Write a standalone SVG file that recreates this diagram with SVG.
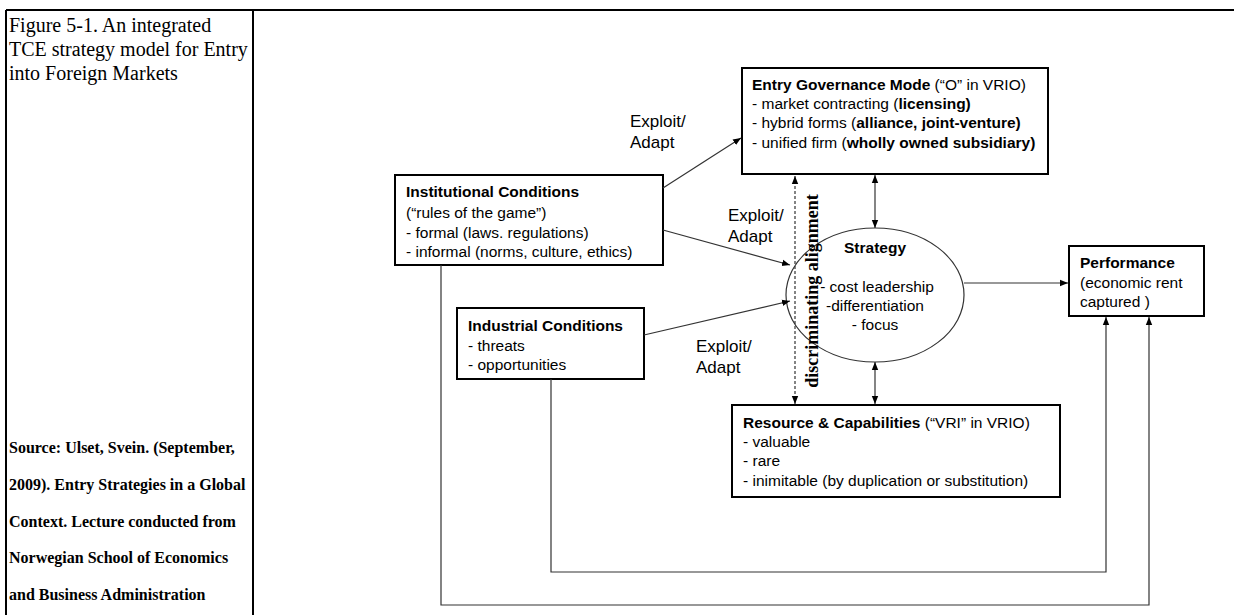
<svg xmlns="http://www.w3.org/2000/svg" width="1234" height="615" viewBox="0 0 1234 615">
<defs>
<marker id="ah" viewBox="0 0 10 10" refX="10" refY="5" markerWidth="8" markerHeight="8" orient="auto-start-reverse" markerUnits="userSpaceOnUse"><path d="M0,1 L10,5 L0,9 z" fill="#000"/></marker>
<style>
.t{font-family:"Liberation Sans",Arial,sans-serif;font-size:15.5px;fill:#000}
.b{font-weight:bold}
.lb{font-family:"Liberation Sans",Arial,sans-serif;font-size:17px;fill:#000}
.cap{font-family:"Liberation Serif","Times New Roman",serif;font-size:20px;fill:#000}
.src{font-family:"Liberation Serif","Times New Roman",serif;font-size:16px;font-weight:bold;fill:#000}
.box{fill:#fff;stroke:#000;stroke-width:2}
.ln{fill:none;stroke:#333;stroke-width:1.2}
.tbl{stroke:#000;stroke-width:2;fill:none}
</style>
</defs>
<rect width="1234" height="615" fill="#fff"/>
<g id="table">
<line class="tbl" x1="6" y1="10" x2="1234" y2="10"/>
<line class="tbl" x1="6" y1="10" x2="6" y2="615"/>
<line class="tbl" x1="253" y1="10" x2="253" y2="615"/>
</g>
<g id="caption">
<text class="cap" x="9" y="32">Figure 5-1. An integrated</text>
<text class="cap" x="9" y="56">TCE strategy model for Entry</text>
<text class="cap" x="9" y="80">into Foreign Markets</text>
</g>
<g id="source">
<text class="src" x="9" y="453">Source: Ulset, Svein. (September,</text>
<text class="src" x="9" y="490">2009). Entry Strategies in a Global</text>
<text class="src" x="9" y="527">Context. Lecture conducted from</text>
<text class="src" x="9" y="563">Norwegian School of Economics</text>
<text class="src" x="9" y="600">and Business Administration</text>
</g>
<g id="entry">
<rect class="box" x="742" y="68" width="306" height="106"/>
<text class="t" x="752" y="90"><tspan class="b">Entry Governance Mode</tspan> (“O” in VRIO)</text>
<text class="t" x="752" y="109">- market contracting (<tspan class="b">licensing)</tspan></text>
<text class="t" x="752" y="128">- hybrid forms (<tspan class="b">alliance, joint-venture)</tspan></text>
<text class="t" x="752" y="148">- unified firm (<tspan class="b">wholly owned subsidiary)</tspan></text>
</g>
<g id="institutional">
<rect class="box" x="395" y="175" width="268" height="90"/>
<text class="t b" x="406" y="197">Institutional Conditions</text>
<text class="t" x="406" y="218">(“rules of the game”)</text>
<text class="t" x="406" y="238">- formal (laws. regulations)</text>
<text class="t" x="406" y="257">- informal (norms, culture, ethics)</text>
</g>
<g id="industrial">
<rect class="box" x="457" y="308" width="187" height="71"/>
<text class="t b" x="468" y="331">Industrial Conditions</text>
<text class="t" x="468" y="351">- threats</text>
<text class="t" x="468" y="370">- opportunities</text>
</g>
<g id="strategy">
<ellipse cx="875" cy="295" rx="89" ry="67" fill="#fff" stroke="#333" stroke-width="1.2"/>
<text class="t b" x="875" y="253" text-anchor="middle">Strategy</text>
<text class="t" x="877" y="292" text-anchor="middle">- cost leadership</text>
<text class="t" x="875" y="311" text-anchor="middle">-differentiation</text>
<text class="t" x="875" y="330" text-anchor="middle">- focus</text>
</g>
<g id="performance">
<rect class="box" x="1069" y="246" width="135" height="70"/>
<text class="t b" x="1080" y="268">Performance</text>
<text class="t" x="1080" y="288">(economic rent</text>
<text class="t" x="1080" y="307">captured )</text>
</g>
<g id="resource">
<rect class="box" x="732" y="405" width="328" height="92"/>
<text class="t" x="743" y="428"><tspan class="b">Resource &amp; Capabilities</tspan>  (“VRI” in VRIO)</text>
<text class="t" x="743" y="447">- valuable</text>
<text class="t" x="743" y="466">- rare</text>
<text class="t" x="743" y="486">- inimitable (by duplication or substitution)</text>
</g>
<g id="connectors">
<line class="ln" x1="663" y1="188" x2="741" y2="138" marker-end="url(#ah)"/>
<line class="ln" x1="663" y1="230" x2="790" y2="265" marker-end="url(#ah)"/>
<line class="ln" x1="644" y1="335" x2="790" y2="301" marker-end="url(#ah)"/>
<line class="ln" x1="875" y1="175" x2="875" y2="228" marker-start="url(#ah)" marker-end="url(#ah)"/>
<line class="ln" x1="875" y1="362" x2="875" y2="404" marker-start="url(#ah)" marker-end="url(#ah)"/>
<line class="ln" x1="795" y1="176" x2="795" y2="404" stroke-dasharray="3,2" marker-start="url(#ah)" marker-end="url(#ah)"/>
<line class="ln" x1="964" y1="283" x2="1068" y2="283" marker-end="url(#ah)"/>
<polyline class="ln" points="551,379 551,572 1106,572 1106,317" marker-end="url(#ah)"/>
<polyline class="ln" points="441,265 441,605 1149,605 1149,317" marker-end="url(#ah)"/>
</g>
<g id="labels">
<text class="lb" x="630" y="127">Exploit/</text>
<text class="lb" x="630" y="148">Adapt</text>
<text class="lb" x="728" y="221">Exploit/</text>
<text class="lb" x="728" y="242">Adapt</text>
<text class="lb" x="696" y="352">Exploit/</text>
<text class="lb" x="696" y="373">Adapt</text>
<text font-family="Liberation Serif,Times New Roman,serif" font-size="18" font-weight="bold" transform="translate(818,291) rotate(-90)" text-anchor="middle">discriminating alignment</text>
</g>
</svg>
